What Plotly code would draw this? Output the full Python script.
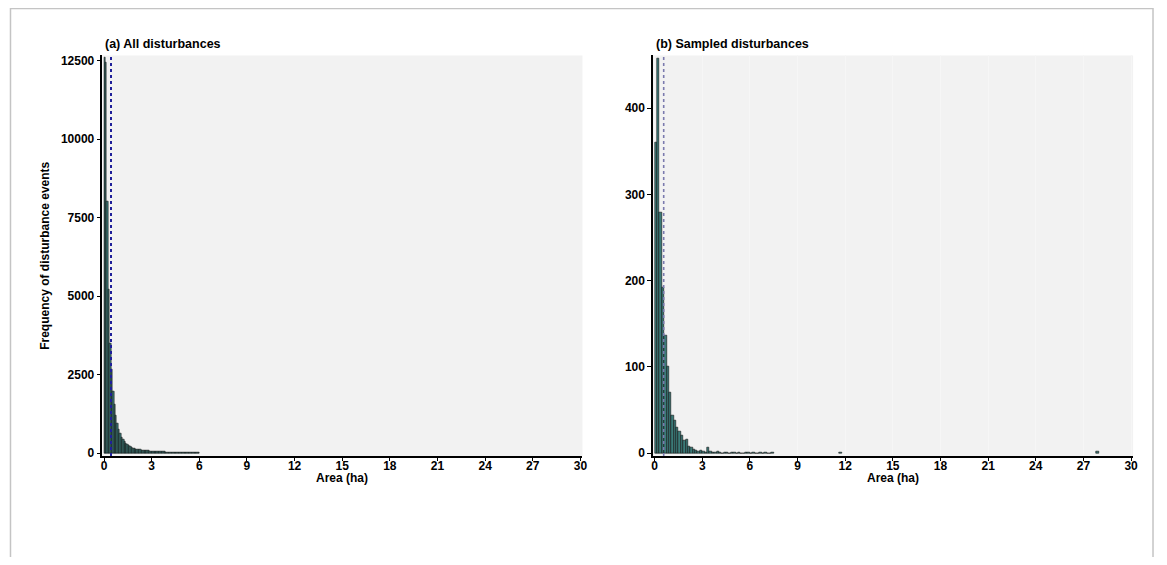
import plotly.graph_objects as go

W, H = 1167, 565
OFF = 8  # page body margin in px

# ---------------- data ----------------
bin_a = 0.09  # ha, bin width panel (a)
counts_a = [12600, 12450, 8000, 5200, 3500, 2650, 1950, 1550, 1200, 950,
            760, 620, 510, 430, 360, 305, 260, 225, 195, 175,
            155, 140, 125, 112, 105, 100, 95, 88, 82, 77,
            72, 68, 64, 60, 56, 52, 49, 46, 43, 40,
            38, 36, 34, 32, 30, 28, 27, 26, 25, 24,
            23, 22, 21, 20, 19, 18, 17, 16, 15, 14,
            13, 12, 11, 10, 9, 8, 7]

bin_b = 0.15  # ha, bin width panel (b)
counts_b = [360, 457, 279, 192, 136, 100, 70, 44, 38, 30,
            25, 20, 15, 16, 8, 6, 4, 3, 2, 3,
            2, 1, 6, 2, 1, 1, 2, 1, 0, 1,
            1, 0, 1, 1, 0, 1, 0, 0, 1, 1,
            0, 1, 0, 0, 1, 0, 1, 0, 0, 1]
outlier_area_b = [11.7, 27.9]
outlier_count_b = [1, 2]

threshold_a = 0.44   # dashed reference line (ha)
threshold_b = 0.57

x_ticks = [0, 3, 6, 9, 12, 15, 18, 21, 24, 27, 30]
y_ticks_a = [0, 2500, 5000, 7500, 10000, 12500]
y_ticks_b = [0, 100, 200, 300, 400]

title_a = "(a) All disturbances"
title_b = "(b) Sampled disturbances"
x_title = "Area (ha)"
y_title = "Frequency of disturbance events"

# ---------------- style ----------------
FILL = "#3b7b78"
EDGE = "#111111"
FONT = "Liberation Sans, Arial, sans-serif"
PANEL_BG = "#f2f2f2"

FW, FH = W - 2 * OFF, H - 2 * OFF

def px_x(p):
    return (p - OFF) / FW

def px_y(p):
    return 1 - (p - OFF) / FH

fig = go.Figure()

xa_centers = [bin_a * (i + 0.5) for i in range(len(counts_a))]
fig.add_trace(go.Bar(x=xa_centers, y=counts_a, width=bin_a,
                     marker=dict(color=FILL, line=dict(color=EDGE, width=0.6)),
                     xaxis="x", yaxis="y", showlegend=False))

xb_centers = [bin_b * (i + 0.5) for i in range(len(counts_b))] + list(outlier_area_b)
yb = counts_b + outlier_count_b
fig.add_trace(go.Bar(x=xb_centers, y=yb, width=bin_b,
                     marker=dict(color=FILL, line=dict(color=EDGE, width=0.6)),
                     xaxis="x2", yaxis="y2", showlegend=False))

# dashed threshold lines
fig.add_trace(go.Scatter(x=[threshold_a, threshold_a], y=[-96, 12660], mode="lines",
                         line=dict(color="#1f1f9a", width=2, dash="3px,3px"),
                         xaxis="x", yaxis="y", showlegend=False))
fig.add_trace(go.Scatter(x=[threshold_b, threshold_b], y=[-3.5, 461], mode="lines",
                         line=dict(color="#7a7aae", width=1.6, dash="3px,3px"),
                         xaxis="x2", yaxis="y2", showlegend=False))

tickfont = dict(family=FONT, size=12, color="black", weight="bold")
titlefont = dict(family=FONT, size=12, color="black", weight="bold")

common_x = dict(tickmode="array", tickvals=x_ticks, ticktext=[str(v) for v in x_ticks],
                ticks="outside", ticklen=3, ticklabelstandoff=-5,
                tickwidth=1.2, tickcolor="black", showline=True, linecolor="black",
                linewidth=1.5, zeroline=False, tickfont=tickfont)
common_y = dict(ticks="outside", ticklen=4, tickwidth=1.2, tickcolor="black",
                showline=True, linecolor="black", linewidth=1.5, zeroline=False,
                showgrid=False, tickfont=tickfont, tickmode="array")

ydom = [px_y(459), px_y(54)]
xdom_a = [px_x(101), px_x(584)]
xdom_b = [px_x(655), px_x(1138)]

def ann(text, x, y, xanchor="left", size=12.5):
    return dict(text=text, x=x, y=y, xref="paper", yref="paper",
                xanchor=xanchor, yanchor="middle", showarrow=False,
                font=dict(family=FONT, size=size, color="black", weight="bold"))

fig.update_layout(
    width=FW, height=FH,
    margin=dict(l=0, r=0, t=0, b=0),
    paper_bgcolor="white",
    plot_bgcolor=PANEL_BG,
    bargap=0,
    xaxis=dict(domain=xdom_a, range=[-0.1, 30.13], showgrid=False,
               anchor="y", **common_x),
    yaxis=dict(domain=ydom, range=[-96, 12660], tickvals=y_ticks_a,
               ticktext=[str(v) for v in y_ticks_a], anchor="x",
               title=dict(text=y_title, font=titlefont, standoff=9), **common_y),
    xaxis2=dict(domain=xdom_b, range=[-0.1, 30.13], showgrid=True,
                gridcolor="#f6f6f6", gridwidth=1, anchor="y2", **common_x),
    yaxis2=dict(domain=ydom, range=[-3.5, 461], tickvals=y_ticks_b,
                ticktext=[str(v) for v in y_ticks_b], anchor="x2", **common_y),
    annotations=[
        ann(title_a, px_x(102), px_y(42)),
        ann(title_b, px_x(656), px_y(42)),
        ann(x_title, sum(xdom_a) / 2, px_y(481), xanchor="center", size=12),
        ann(x_title, sum(xdom_b) / 2, px_y(481), xanchor="center", size=12),
    ],
    shapes=[
        dict(type="rect", xref="paper", yref="paper",
             x0=px_x(8.5), x1=px_x(1158), y0=-0.05, y1=px_y(6.5),
             line=dict(color="#c4c4c4", width=1.5), fillcolor="rgba(0,0,0,0)"),
    ],
)

fig.write_html("out.html")
